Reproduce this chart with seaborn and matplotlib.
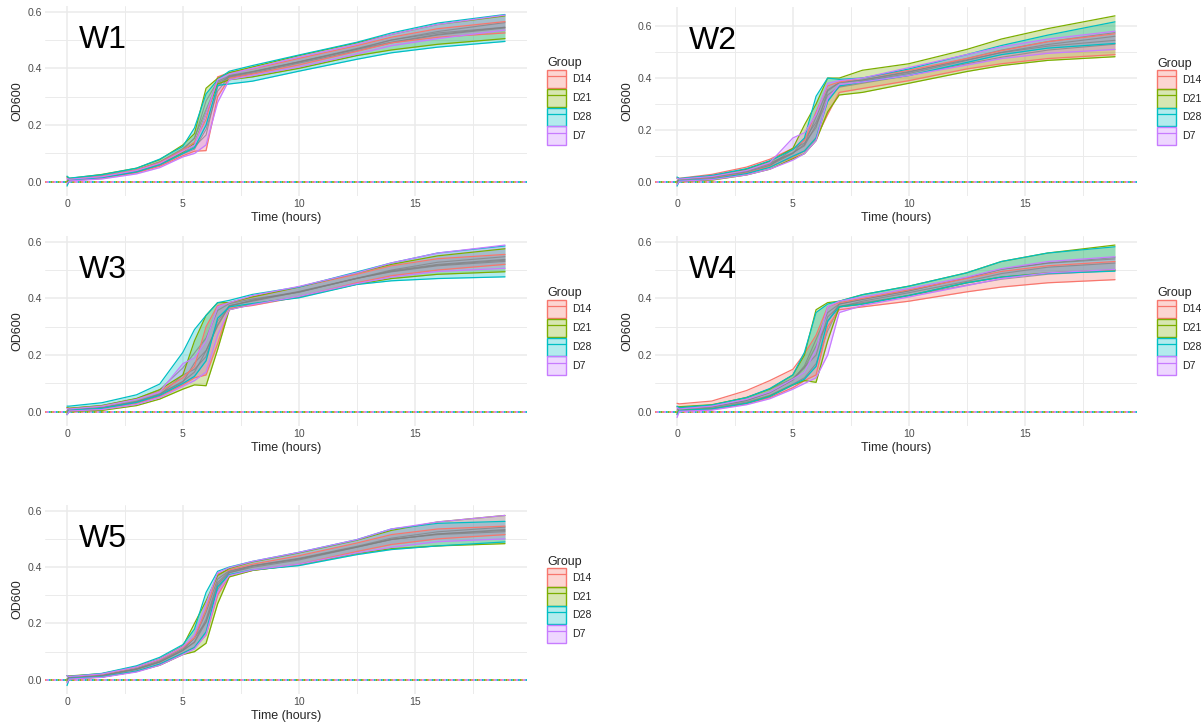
"""
Growth curves (OD600) for W1-W5, ribbons per group
"""

import numpy as np
import pandas as pd
import matplotlib
matplotlib.use("Agg")
import matplotlib.pyplot as plt
from matplotlib.patches import Patch
from matplotlib.lines import Line2D
from matplotlib.colors import to_rgba
from matplotlib.ticker import MultipleLocator, FormatStrFormatter
import seaborn as sns

groups = ["D14", "D21", "D28", "D7"]
group_colors = ["#F8766D", "#7CAE00", "#00BFC4", "#C77CFF"]
time_h = [0, 0.1, 1.5, 3, 4, 5, 5.5, 6, 6.5, 7, 8, 10, 12.5, 14, 16, 18.9]

# W1 ribbon bounds per group
w1_lo = {
    "D14": [-0.010, 0.004, 0.012, 0.032, 0.055, 0.092, 0.108, 0.110, 0.300, 0.365, 0.380, 0.412, 0.460, 0.490, 0.510, 0.525],
    "D21": [0.000, 0.007, 0.016, 0.036, 0.062, 0.105, 0.135, 0.240, 0.345, 0.360, 0.370, 0.400, 0.445, 0.465, 0.485, 0.505],
    "D28": [-0.015, 0.006, 0.015, 0.035, 0.060, 0.100, 0.120, 0.200, 0.340, 0.345, 0.355, 0.390, 0.432, 0.455, 0.475, 0.495],
    "D7": [-0.005, 0.003, 0.010, 0.028, 0.050, 0.088, 0.100, 0.130, 0.280, 0.360, 0.375, 0.405, 0.450, 0.480, 0.505, 0.535],
}
w1_hi = {
    "D14": [0.015, 0.010, 0.020, 0.042, 0.068, 0.112, 0.140, 0.220, 0.370, 0.385, 0.398, 0.435, 0.480, 0.510, 0.540, 0.565],
    "D21": [0.018, 0.012, 0.026, 0.048, 0.078, 0.130, 0.170, 0.330, 0.365, 0.385, 0.405, 0.445, 0.490, 0.520, 0.555, 0.585],
    "D28": [0.020, 0.013, 0.025, 0.048, 0.080, 0.125, 0.190, 0.310, 0.360, 0.390, 0.410, 0.447, 0.492, 0.525, 0.560, 0.590],
    "D7": [0.012, 0.009, 0.018, 0.040, 0.065, 0.108, 0.130, 0.240, 0.360, 0.380, 0.400, 0.440, 0.485, 0.520, 0.555, 0.588],
}

# W2
w2_lo = {
    "D14": [-0.010, 0.006, 0.014, 0.035, 0.060, 0.095, 0.120, 0.170, 0.260, 0.345, 0.360, 0.390, 0.435, 0.455, 0.475, 0.490],
    "D21": [-0.005, 0.004, 0.008, 0.028, 0.050, 0.090, 0.110, 0.160, 0.270, 0.335, 0.345, 0.380, 0.425, 0.448, 0.468, 0.482],
    "D28": [-0.015, 0.006, 0.012, 0.033, 0.057, 0.100, 0.120, 0.170, 0.310, 0.370, 0.385, 0.410, 0.460, 0.490, 0.515, 0.533],
    "D7": [-0.010, 0.004, 0.010, 0.028, 0.050, 0.085, 0.110, 0.160, 0.320, 0.375, 0.385, 0.410, 0.450, 0.475, 0.495, 0.510],
}
w2_hi = {
    "D14": [0.018, 0.015, 0.030, 0.058, 0.088, 0.130, 0.160, 0.270, 0.370, 0.385, 0.400, 0.430, 0.475, 0.505, 0.540, 0.570],
    "D21": [0.015, 0.012, 0.024, 0.050, 0.080, 0.130, 0.220, 0.300, 0.400, 0.400, 0.430, 0.455, 0.510, 0.550, 0.590, 0.639],
    "D28": [0.020, 0.014, 0.026, 0.052, 0.082, 0.125, 0.170, 0.330, 0.400, 0.395, 0.400, 0.435, 0.490, 0.525, 0.565, 0.616],
    "D7": [0.015, 0.012, 0.022, 0.045, 0.075, 0.170, 0.190, 0.260, 0.380, 0.390, 0.400, 0.440, 0.490, 0.520, 0.550, 0.580],
}

# W3
w3_lo = {
    "D14": [-0.010, 0.005, 0.010, 0.030, 0.055, 0.095, 0.120, 0.130, 0.240, 0.365, 0.375, 0.405, 0.455, 0.480, 0.500, 0.520],
    "D21": [-0.005, 0.002, 0.005, 0.022, 0.045, 0.080, 0.095, 0.092, 0.220, 0.360, 0.380, 0.405, 0.450, 0.470, 0.485, 0.494],
    "D28": [-0.010, 0.006, 0.012, 0.033, 0.058, 0.100, 0.125, 0.180, 0.330, 0.370, 0.382, 0.402, 0.449, 0.462, 0.470, 0.476],
    "D7": [-0.010, 0.003, 0.008, 0.026, 0.050, 0.090, 0.110, 0.140, 0.270, 0.360, 0.378, 0.407, 0.452, 0.475, 0.495, 0.506],
}
w3_hi = {
    "D14": [0.015, 0.012, 0.020, 0.045, 0.072, 0.120, 0.160, 0.300, 0.375, 0.385, 0.405, 0.440, 0.485, 0.515, 0.540, 0.555],
    "D21": [0.015, 0.012, 0.022, 0.047, 0.078, 0.130, 0.250, 0.340, 0.385, 0.385, 0.405, 0.440, 0.490, 0.520, 0.550, 0.575],
    "D28": [0.020, 0.020, 0.032, 0.060, 0.098, 0.210, 0.290, 0.340, 0.385, 0.393, 0.414, 0.440, 0.493, 0.525, 0.560, 0.585],
    "D7": [0.012, 0.010, 0.020, 0.044, 0.070, 0.170, 0.190, 0.250, 0.370, 0.385, 0.410, 0.442, 0.490, 0.525, 0.560, 0.588],
}

# W4
w4_lo = {
    "D14": [-0.010, 0.004, 0.008, 0.028, 0.050, 0.085, 0.110, 0.130, 0.300, 0.360, 0.370, 0.390, 0.423, 0.440, 0.455, 0.466],
    "D21": [-0.005, 0.006, 0.010, 0.030, 0.055, 0.095, 0.110, 0.104, 0.250, 0.370, 0.380, 0.410, 0.455, 0.475, 0.490, 0.500],
    "D28": [-0.010, 0.005, 0.010, 0.030, 0.054, 0.095, 0.115, 0.160, 0.320, 0.370, 0.380, 0.410, 0.455, 0.475, 0.488, 0.496],
    "D7": [-0.020, 0.002, 0.006, 0.025, 0.046, 0.080, 0.100, 0.120, 0.200, 0.350, 0.375, 0.405, 0.445, 0.470, 0.490, 0.502],
}
w4_hi = {
    "D14": [0.030, 0.028, 0.038, 0.075, 0.110, 0.150, 0.205, 0.270, 0.370, 0.385, 0.400, 0.430, 0.470, 0.495, 0.515, 0.530],
    "D21": [0.018, 0.018, 0.025, 0.050, 0.080, 0.130, 0.200, 0.360, 0.385, 0.390, 0.413, 0.443, 0.490, 0.530, 0.560, 0.588],
    "D28": [0.020, 0.015, 0.024, 0.050, 0.082, 0.130, 0.210, 0.350, 0.380, 0.390, 0.413, 0.443, 0.490, 0.530, 0.560, 0.582],
    "D7": [0.015, 0.010, 0.020, 0.044, 0.070, 0.115, 0.140, 0.220, 0.370, 0.390, 0.405, 0.435, 0.475, 0.505, 0.530, 0.547],
}

# W5
w5_lo = {
    "D14": [-0.010, 0.004, 0.010, 0.030, 0.055, 0.095, 0.115, 0.160, 0.300, 0.370, 0.388, 0.410, 0.455, 0.480, 0.500, 0.515],
    "D21": [-0.005, 0.004, 0.010, 0.030, 0.052, 0.090, 0.100, 0.130, 0.270, 0.365, 0.388, 0.408, 0.448, 0.465, 0.475, 0.483],
    "D28": [-0.020, 0.005, 0.011, 0.031, 0.056, 0.095, 0.115, 0.170, 0.330, 0.373, 0.390, 0.405, 0.444, 0.462, 0.475, 0.489],
    "D7": [-0.010, 0.003, 0.009, 0.028, 0.052, 0.090, 0.110, 0.160, 0.310, 0.370, 0.390, 0.410, 0.450, 0.470, 0.490, 0.500],
}
w5_hi = {
    "D14": [0.015, 0.012, 0.020, 0.045, 0.072, 0.115, 0.150, 0.250, 0.375, 0.390, 0.410, 0.440, 0.485, 0.515, 0.535, 0.545],
    "D21": [0.015, 0.014, 0.022, 0.047, 0.075, 0.120, 0.200, 0.280, 0.370, 0.395, 0.418, 0.450, 0.495, 0.530, 0.560, 0.583],
    "D28": [0.015, 0.012, 0.023, 0.050, 0.080, 0.125, 0.180, 0.310, 0.385, 0.400, 0.420, 0.452, 0.497, 0.535, 0.555, 0.562],
    "D7": [0.015, 0.012, 0.021, 0.046, 0.074, 0.118, 0.160, 0.270, 0.380, 0.398, 0.420, 0.452, 0.497, 0.535, 0.560, 0.583],
}

panels = [
    ("W1", w1_lo, w1_hi),
    ("W2", w2_lo, w2_hi),
    ("W3", w3_lo, w3_hi),
    ("W4", w4_lo, w4_hi),
    ("W5", w5_lo, w5_hi),
]

# axes boxes in pixels: left, top, right, bottom ; y limits
W, H = 1201, 728
boxes = {
    "W1": ((45, 6, 527, 196), (-0.05, 0.62)),
    "W2": ((655, 7, 1137, 196), (-0.053, 0.673)),
    "W3": ((45, 236, 527, 426), (-0.05, 0.62)),
    "W4": ((655, 236, 1137, 426), (-0.05, 0.62)),
    "W5": ((45, 505, 527, 694), (-0.05, 0.62)),
}

# long table
rows = []
for name, lo, hi in panels:
    for g in groups:
        for t, a, b in zip(time_h, lo[g], hi[g]):
            rows.append({"panel": name, "group": g, "time": t, "lo": a, "hi": b, "mid": (a + b) / 2})
df = pd.DataFrame(rows)

sns.set_theme(style="whitegrid")
plt.rcParams["font.family"] = ["Liberation Sans", "DejaVu Sans"]

pal = dict(zip(groups, group_colors))
fig = plt.figure(figsize=(W / 100, H / 100), dpi=100)

for name, _, _ in panels:
    (x0, y0, x1, y1), ylim = boxes[name]
    ax = fig.add_axes([x0 / W, 1 - y1 / H, (x1 - x0) / W, (y1 - y0) / H])
    d = df[df.panel == name]

    # dotted zero lines, one per group
    for i, c in enumerate(group_colors):
        ax.axhline(0, color=c, lw=1.3, ls=(i, (1, 3)), zorder=1)

    for g in groups:
        sub = d[d.group == g]
        ax.fill_between(sub.time, sub.lo, sub.hi, color=pal[g], alpha=0.3, lw=0, zorder=2)
    sns.lineplot(data=d, x="time", y="mid", units="group", estimator=None, color="grey",
                 alpha=0.7, lw=0.8, ax=ax, zorder=3)
    sns.lineplot(data=d, x="time", y="lo", hue="group", palette=pal, estimator=None,
                 legend=False, lw=0.9, ax=ax, zorder=4)
    sns.lineplot(data=d, x="time", y="hi", hue="group", palette=pal, estimator=None,
                 legend=False, lw=0.9, ax=ax, zorder=4)

    ax.set_xlim(-0.95, 19.85)
    ax.set_ylim(*ylim)
    ax.xaxis.set_major_locator(MultipleLocator(5))
    ax.xaxis.set_minor_locator(MultipleLocator(2.5))
    ax.yaxis.set_major_locator(MultipleLocator(0.2))
    ax.yaxis.set_minor_locator(MultipleLocator(0.1))
    ax.yaxis.set_major_formatter(FormatStrFormatter("%.1f"))
    ax.grid(which="major", color="#EBEBEB", lw=1.1)
    ax.grid(which="minor", color="#EBEBEB", lw=0.7)
    ax.set_axisbelow(True)
    for s in ax.spines.values():
        s.set_visible(False)
    ax.tick_params(which="both", length=0, labelsize=7.6, labelcolor="#4D4D4D", pad=2)
    ax.set_xlabel("Time (hours)", fontsize=9, labelpad=2)
    ax.set_ylabel("OD600", fontsize=9, labelpad=3)

    ax.text(0.12, 0.82, name, transform=ax.transAxes, fontsize=23,
            ha="center", va="center", color="black")

    handles = [(Patch(facecolor=to_rgba(c, 0.3), edgecolor=c, lw=1.0),
                Line2D([], [], color=c, lw=0.9)) for c in group_colors]
    leg = ax.legend(handles, groups, title="Group", loc="center left",
                    bbox_to_anchor=((x1 + 15) / W, 1 - (y0 + y1) / 2 / H),
                    bbox_transform=fig.transFigure, frameon=False,
                    fontsize=7.6, title_fontsize=9, handlelength=1.8,
                    handleheight=2.3, labelspacing=0.05, handletextpad=0.6,
                    borderpad=0, alignment="left")

fig.savefig("out.png", dpi=100)
